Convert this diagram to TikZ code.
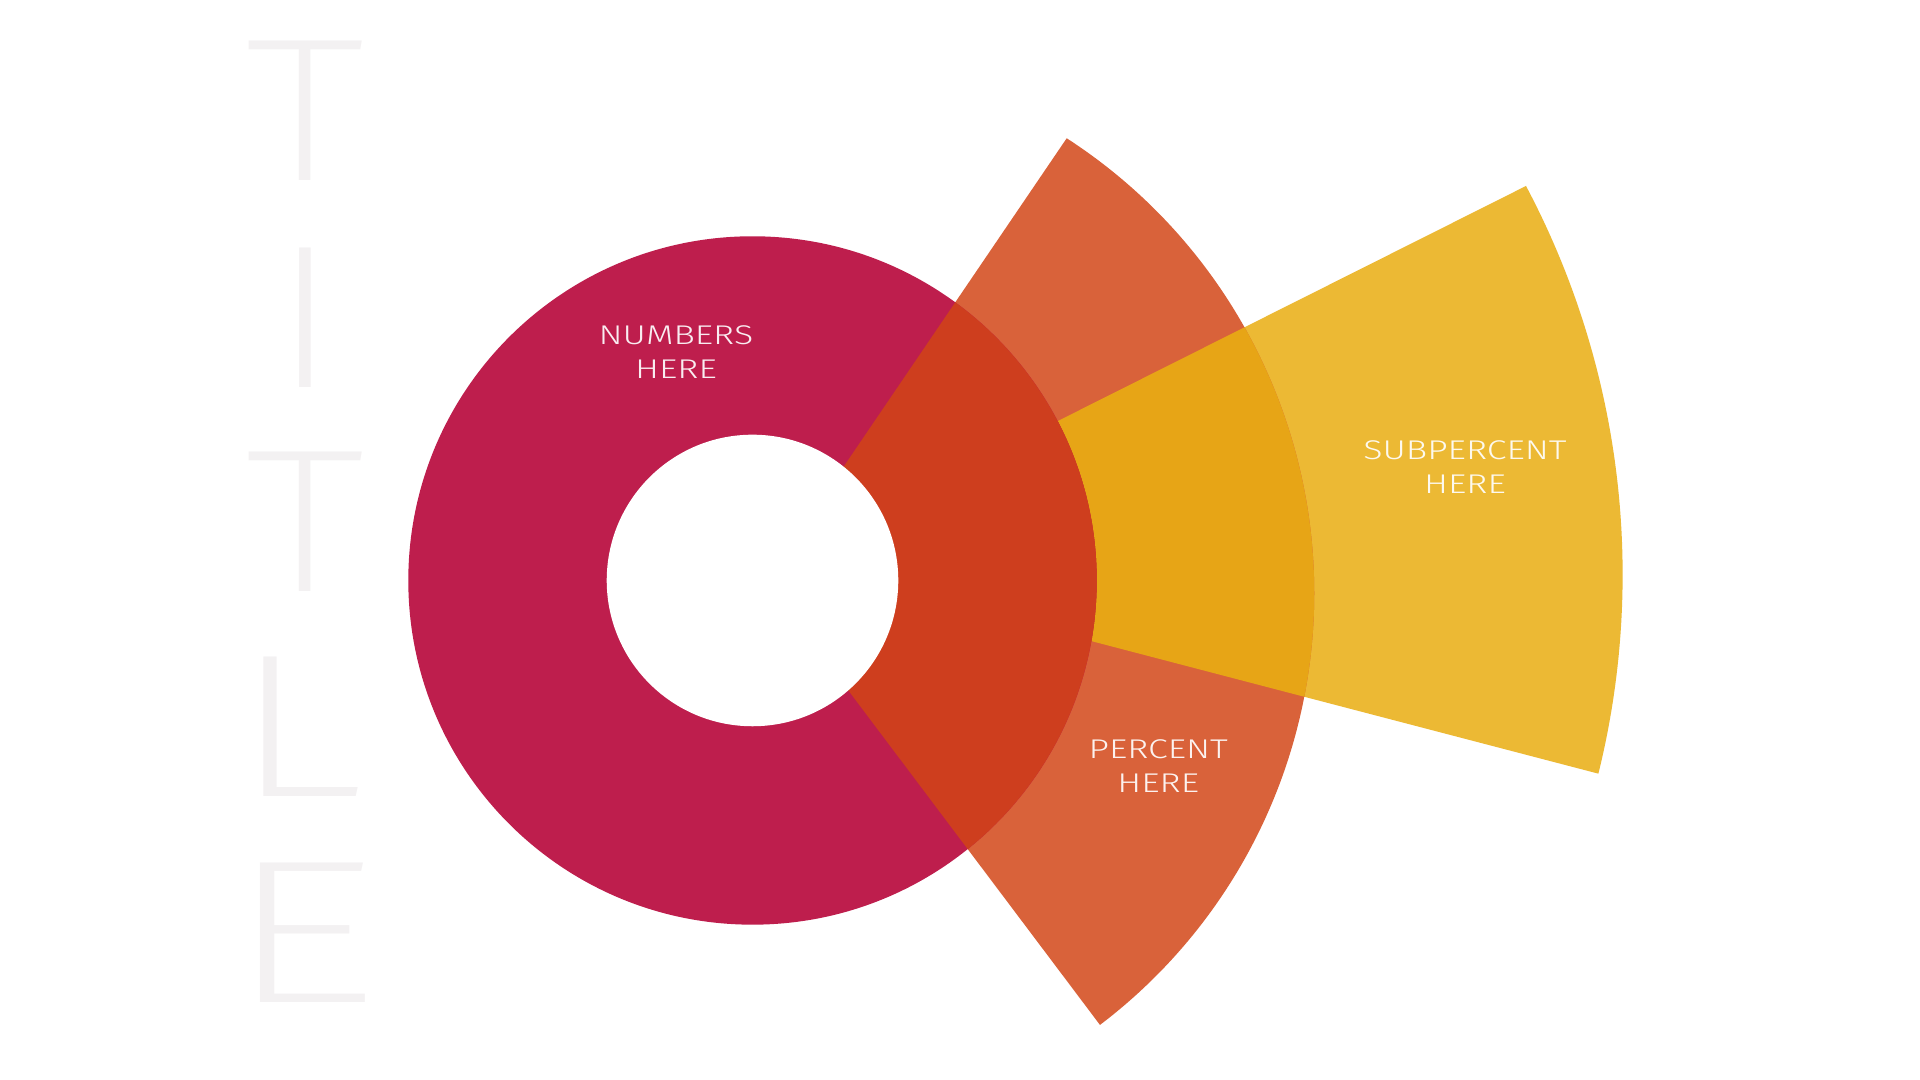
\documentclass[tikz,border=0pt]{standalone}
\usepackage{fontspec}
\newfontfamily\lightfont{Fira Sans Light}
\newfontfamily\xlightfont{Fira Sans ExtraLight}
\definecolor{crimson}{HTML}{BE1E4D}
\definecolor{orangec}{HTML}{D9623A}
\definecolor{redorange}{HTML}{CE3E1E}
\definecolor{goldc}{HTML}{E7A516}
\definecolor{yellowc}{HTML}{ECB934}
\definecolor{titlegray}{HTML}{F3F1F2}
\begin{document}
\begin{tikzpicture}[x=0.01cm,y=0.01cm,
  lbl/.style={text=white, text opacity=0.92, align=center, inner sep=0pt,
    font=\lightfont\fontsize{7.7}{9.7}\selectfont\addfontfeature{FakeStretch=1.32}},
  titleletter/.style={text=titlegray, inner sep=0pt,
    font=\xlightfont\fontsize{58}{58}\selectfont\addfontfeature{FakeStretch=#1}}]
\useasboundingbox (0,0) rectangle (1920,1080);
\fill[white] (0,0) rectangle (1920,1080);
% yellow sector
\fill[yellowc] (781,520) -- (1526,894) arc[start angle=27.93, end angle=-13.89, radius=8.291cm] -- cycle;
% orange sector
\fill[orangec] (766,499) -- (1066.7,941.7) arc[start angle=57.1, end angle=-52.8, radius=5.416cm] -- cycle;
% orange over yellow
\begin{scope}
  \clip (781,520) -- (1526,894) arc[start angle=27.93, end angle=-13.89, radius=8.291cm] -- cycle;
  \fill[goldc] (766,499) -- (1066.7,941.7) arc[start angle=57.1, end angle=-52.8, radius=5.416cm] -- cycle;
\end{scope}
% ring
\fill[crimson] (752.5,499.5) circle[radius=3.44cm];
\begin{scope}
  \clip (752.5,499.5) circle[radius=3.44cm];
  \fill[redorange] (781,520) -- (1526,894) arc[start angle=27.93, end angle=-13.89, radius=8.291cm] -- cycle;
  \fill[redorange] (766,499) -- (1066.7,941.7) arc[start angle=57.1, end angle=-52.8, radius=5.416cm] -- cycle;
\end{scope}
\fill[white] (752.5,499.5) circle[radius=1.457cm];
% labels
\node[lbl] (numbers) at (676,727.5) {NUMBERS\\HERE};
\node[lbl] (percent) at (1158.3,314) {PERCENT\\HERE};
\node[lbl] (subpercent) at (1465,613) {SUBPERCENT\\HERE};
% title
\node[titleletter=1.2] (t1) at (305,969.5) {T};
\node[titleletter=1.2] (i1) at (305,762.5) {I};
\node[titleletter=1.2] (t2) at (305,558.5) {T};
\node[titleletter=1.38] (l1) at (298,353) {L};
\node[titleletter=1.49] (e1) at (302,147.5) {E};
\end{tikzpicture}
\end{document}
